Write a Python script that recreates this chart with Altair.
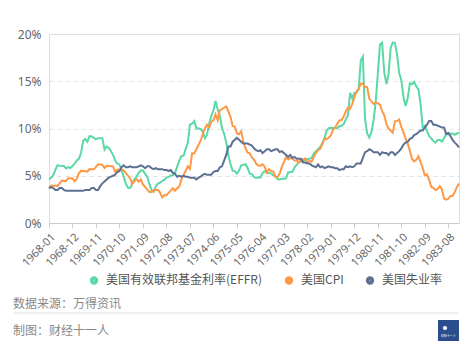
import altair as alt
import pandas as pd

# ---- data (monthly, 1968-01 .. 1984-01) ----
months = []
for yr in range(1968, 1985):
    for m in range(1, 13):
        if yr == 1984 and m > 1:
            break
        months.append(f"{yr}-{m:02d}")

effr = [
    4.61, 4.79, 5.06, 5.64, 6.12, 6.07, 6.03, 6.03, 5.78, 5.91, 5.82, 6.02,
    6.30, 6.61, 6.79, 7.41, 8.67, 8.90, 8.61, 9.19, 9.15, 9.00, 8.85, 8.97,
    8.98, 8.98, 7.76, 8.10, 7.94, 7.60, 7.21, 6.61, 6.29, 6.20, 5.60, 4.90,
    4.14, 3.72, 3.71, 4.16, 4.63, 4.91, 5.31, 5.57, 5.55, 5.20, 4.91, 4.14,
    3.50, 3.29, 3.83, 4.17, 4.27, 4.46, 4.55, 4.80, 4.87, 5.04, 5.06, 5.33,
    5.94, 6.58, 7.09, 7.12, 7.84, 8.49, 10.40, 10.50, 10.78, 10.01, 10.03, 9.95,
    9.65, 8.97, 9.35, 10.51, 11.31, 11.93, 12.92, 12.01, 11.34, 10.06, 9.45, 8.53,
    7.13, 6.24, 5.54, 5.49, 5.22, 5.55, 6.10, 6.14, 6.24, 5.82, 5.22, 5.20,
    4.87, 4.77, 4.84, 4.82, 5.29, 5.48, 5.31, 5.29, 5.25, 5.03, 4.95, 4.65,
    4.61, 4.68, 4.69, 4.73, 5.35, 5.39, 5.42, 5.90, 6.14, 6.47, 6.51, 6.56,
    6.70, 6.78, 6.79, 6.89, 7.36, 7.60, 7.81, 8.04, 8.45, 8.96, 9.76, 10.03,
    10.07, 10.06, 10.09, 10.01, 10.24, 10.29, 10.47, 10.94, 11.43, 13.77, 13.18, 13.78,
    13.82, 14.13, 17.19, 17.61, 10.98, 9.47, 9.03, 9.61, 10.87, 12.81, 15.85, 18.90,
    19.08, 15.93, 14.70, 15.72, 18.52, 19.10, 19.04, 17.82, 15.87, 15.08, 13.31, 12.37,
    13.22, 14.78, 14.68, 14.94, 14.45, 14.15, 12.59, 10.12, 10.31, 9.71, 9.20, 8.95,
    8.68, 8.51, 8.77, 8.80, 8.63, 8.98, 9.37, 9.56, 9.45, 9.48, 9.34, 9.47,
    9.56,
]

cpi = [
    3.65, 3.97, 3.95, 3.94, 3.93, 4.20, 4.49, 4.45, 4.45, 4.74, 4.73, 4.72,
    4.40, 4.68, 5.25, 5.52, 5.51, 5.48, 5.44, 5.71, 5.70, 5.68, 5.93, 6.20,
    6.18, 6.15, 5.82, 6.06, 6.04, 6.01, 5.98, 5.41, 5.66, 5.63, 5.60, 5.57,
    5.29, 5.00, 4.71, 4.16, 4.40, 4.64, 4.36, 4.62, 4.08, 3.81, 3.53, 3.27,
    3.27, 3.51, 3.50, 3.49, 3.23, 2.71, 2.95, 2.94, 3.19, 3.42, 3.67, 3.41,
    3.65, 3.87, 4.59, 5.06, 5.53, 6.00, 5.73, 7.38, 7.36, 7.80, 8.25, 8.71,
    9.39, 10.02, 10.39, 10.09, 10.71, 10.86, 11.51, 10.86, 11.95, 12.06, 12.20, 12.34,
    11.80, 11.23, 10.25, 10.21, 9.47, 9.39, 9.72, 8.60, 7.91, 7.44, 7.38, 6.94,
    6.72, 6.29, 6.07, 6.05, 6.20, 5.97, 5.35, 5.71, 5.49, 5.46, 4.88, 4.86,
    5.21, 5.91, 6.44, 6.95, 6.73, 6.87, 6.83, 6.62, 6.60, 6.39, 6.72, 6.70,
    6.84, 6.43, 6.55, 6.50, 6.97, 7.41, 7.70, 7.86, 8.31, 8.93, 8.89, 9.02,
    9.28, 9.86, 10.09, 10.49, 10.85, 10.89, 11.26, 11.82, 12.18, 12.07, 12.61, 13.29,
    13.91, 14.18, 14.76, 14.73, 14.41, 14.38, 13.13, 12.87, 12.60, 12.77, 12.65, 12.52,
    11.83, 11.41, 10.49, 10.00, 9.78, 9.55, 10.76, 10.80, 10.95, 10.14, 9.59, 8.92,
    8.39, 7.62, 6.78, 6.51, 6.68, 7.06, 6.44, 5.85, 5.04, 5.14, 4.59, 3.83,
    3.71, 3.49, 3.60, 3.90, 3.55, 2.58, 2.46, 2.56, 2.86, 2.85, 3.27, 3.79,
    4.19,
]

unrate = [
    3.7, 3.8, 3.7, 3.5, 3.5, 3.7, 3.7, 3.5, 3.4, 3.4, 3.4, 3.4,
    3.4, 3.4, 3.4, 3.4, 3.4, 3.5, 3.5, 3.5, 3.7, 3.7, 3.5, 3.5,
    3.9, 4.2, 4.4, 4.6, 4.8, 4.9, 5.0, 5.1, 5.4, 5.5, 5.9, 6.1,
    5.9, 5.9, 6.0, 5.9, 5.9, 5.9, 6.0, 6.1, 6.0, 5.8, 6.0, 6.0,
    5.8, 5.7, 5.8, 5.7, 5.7, 5.7, 5.6, 5.6, 5.5, 5.6, 5.3, 5.2,
    4.9, 5.0, 4.9, 5.0, 4.9, 4.9, 4.8, 4.8, 4.8, 4.6, 4.8, 4.9,
    5.1, 5.2, 5.1, 5.1, 5.1, 5.4, 5.5, 5.5, 5.9, 6.0, 6.6, 7.2,
    8.1, 8.1, 8.6, 8.8, 9.0, 8.8, 8.6, 8.4, 8.4, 8.4, 8.3, 8.2,
    7.9, 7.7, 7.6, 7.7, 7.4, 7.6, 7.8, 7.8, 7.6, 7.7, 7.8, 7.8,
    7.5, 7.6, 7.4, 7.2, 7.0, 7.2, 6.9, 7.0, 6.8, 6.8, 6.8, 6.4,
    6.4, 6.3, 6.3, 6.1, 6.0, 5.9, 6.2, 5.9, 6.0, 5.8, 5.9, 6.0,
    5.9, 5.9, 5.8, 5.8, 5.6, 5.7, 5.7, 6.0, 5.9, 6.0, 5.9, 6.0,
    6.3, 6.3, 6.3, 6.9, 7.5, 7.6, 7.8, 7.7, 7.5, 7.5, 7.5, 7.2,
    7.5, 7.4, 7.4, 7.2, 7.5, 7.5, 7.2, 7.4, 7.6, 7.9, 8.3, 8.5,
    8.6, 8.9, 9.0, 9.3, 9.4, 9.6, 9.8, 9.8, 10.1, 10.4, 10.8, 10.8,
    10.4, 10.4, 10.3, 10.2, 10.1, 10.1, 9.4, 9.5, 9.2, 8.8, 8.5, 8.3,
    8.0,
]

series_names = ["美国有效联邦基金利率(EFFR)", "美国CPI", "美国失业率"]
series_colors = ["#5AD8A6", "#FF9845", "#5D7092"]
y_ticks = [0, 5, 10, 15, 20]
x_tick_labels = months[::11]

source_text = "数据来源：万得资讯"
maker_text = "制图：财经十一人"

rows = []
for name, vals in zip(series_names, [effr, cpi, unrate]):
    for i, (mth, v) in enumerate(zip(months, vals)):
        rows.append({"month": mth, "value": v, "series": name, "order": i})
df = pd.DataFrame(rows)

W, H = 410, 189
FONT = "Noto Sans CJK SC"

lines = alt.Chart(df).mark_line(strokeWidth=2).encode(
    x=alt.X(
        "month:O",
        sort=months,
        scale=alt.Scale(type="point", padding=0),
        axis=alt.Axis(
            values=x_tick_labels,
            labelAngle=315,
            labelFontSize=11,
            labelColor="#666666",
            labelFont="Noto Sans",
            labelPadding=3,
            tickSize=5,
            tickColor="#cccccc",
            domainColor="#cccccc",
            grid=False,
            title=None,
        ),
    ),
    y=alt.Y(
        "value:Q",
        scale=alt.Scale(domain=[0, 20]),
        axis=alt.Axis(
            values=y_ticks,
            labelExpr="datum.value + '%'",
            labelFontSize=12,
            labelColor="#666666",
            labelFont="Noto Sans",
            labelPadding=8,
            ticks=False,
            domain=False,
            gridDash=[4, 4],
            gridColor="#e0e0e0",
            title=None,
        ),
    ),
    color=alt.Color(
        "series:N",
        scale=alt.Scale(domain=series_names, range=series_colors),
        legend=alt.Legend(
            orient="none",
            legendX=39,
            legendY=240,
            direction="horizontal",
            columns=3,
            title=None,
            symbolType="circle",
            symbolSize=14,
            symbolStrokeWidth=4.6,
            symbolOpacity=1,
            labelFontSize=12,
            labelColor="#555555",
            labelFont=FONT,
            labelOffset=6,
            columnPadding=14,
        ),
    ),
    detail="series:N",
    order="order:Q",
)

one = pd.DataFrame({"k": [0]})

src = alt.Chart(one).mark_text(
    text=source_text, align="left", baseline="middle", fontSize=12,
    color="#888888", font=FONT,
).encode(x=alt.value(-36), y=alt.value(270))

sep = alt.Chart(one).mark_rule(color="#e0e0e0", strokeWidth=1).encode(
    x=alt.value(-36), x2=alt.value(410), y=alt.value(279)
)

maker = alt.Chart(one).mark_text(
    text=maker_text, align="left", baseline="middle", fontSize=12,
    color="#888888", font=FONT,
).encode(x=alt.value(-36), y=alt.value(297))

logo = alt.Chart(one).mark_rect(color="#2B4D8E").encode(
    x=alt.value(389), x2=alt.value(410), y=alt.value(286), y2=alt.value(307)
)
logo_dot = alt.Chart(one).mark_circle(color="#ffffff", size=18, opacity=1).encode(
    x=alt.value(396), y=alt.value(294)
)
logo_txt = alt.Chart(one).mark_text(
    text="财经十一人", fontSize=3, color="#ffffff", font=FONT
).encode(x=alt.value(399.5), y=alt.value(302))

chart = alt.layer(lines, src, sep, maker, logo, logo_dot, logo_txt).properties(
    width=W,
    height=H,
    autosize=alt.AutoSizeParams(type="none"),
    padding={"left": 49, "top": 34, "right": 13, "bottom": 129},
).configure_view(stroke=None).configure(background="white")

chart.save("out.html", embed_options={"renderer": "svg", "actions": False})
